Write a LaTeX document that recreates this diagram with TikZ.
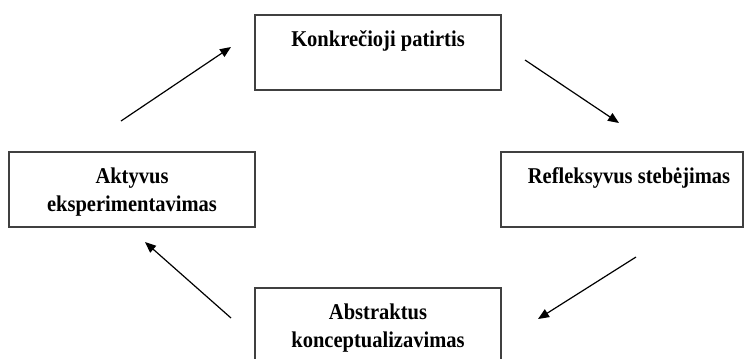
\documentclass[tikz,border=0pt]{standalone}
\usepackage{fontspec}
\setmainfont{Liberation Serif}
\usetikzlibrary{arrows.meta}

\begin{document}
\begin{tikzpicture}[x=1bp,y=-1bp,>={Triangle[length=11bp,width=9bp]},
  stage/.style={draw=black!75,line width=1.5bp,minimum width=246bp,minimum height=75bp,inner sep=0pt},
  stagetext/.style={anchor=north,inner sep=0pt,align=center,yscale=1.1,font=\fontsize{20.6}{26}\selectfont\bfseries},
  flow/.style={->,line width=1.2bp}]
\useasboundingbox (0,0) rectangle (745,358);
% boxes
\node[stage] (konk) at (378,52.5) {};
\node[stage,minimum width=242bp] (refl) at (622,189.5) {};
\node[stage] (abst) at (378,325.5) {};
\node[stage] (akty) at (132,189.5) {};
% labels
\node[stagetext] (konkt) at ([yshift=-16bp]konk.north) {Konkrečioji patirtis};
\node[stagetext] (reflt) at ([xshift=7bp,yshift=-16bp]refl.north) {Refleksyvus stebėjimas};
\node[stagetext] (abstt) at ([yshift=-16bp]abst.north) {Abstraktus\\konceptualizavimas};
\node[stagetext] (aktyt) at ([yshift=-16bp]akty.north) {Aktyvus\\eksperimentavimas};
% arrows
\coordinate (a1s) at (121,121); \coordinate (a1e) at (231,47);
\coordinate (a2s) at (525,60);  \coordinate (a2e) at (619,123);
\coordinate (a3s) at (636,257); \coordinate (a3e) at (538,319);
\coordinate (a4s) at (231,318); \coordinate (a4e) at (145,242);
\draw[flow] (a1s) -- (a1e);
\draw[flow] (a2s) -- (a2e);
\draw[flow] (a3s) -- (a3e);
\draw[flow] (a4s) -- (a4e);
\end{tikzpicture}
\end{document}
